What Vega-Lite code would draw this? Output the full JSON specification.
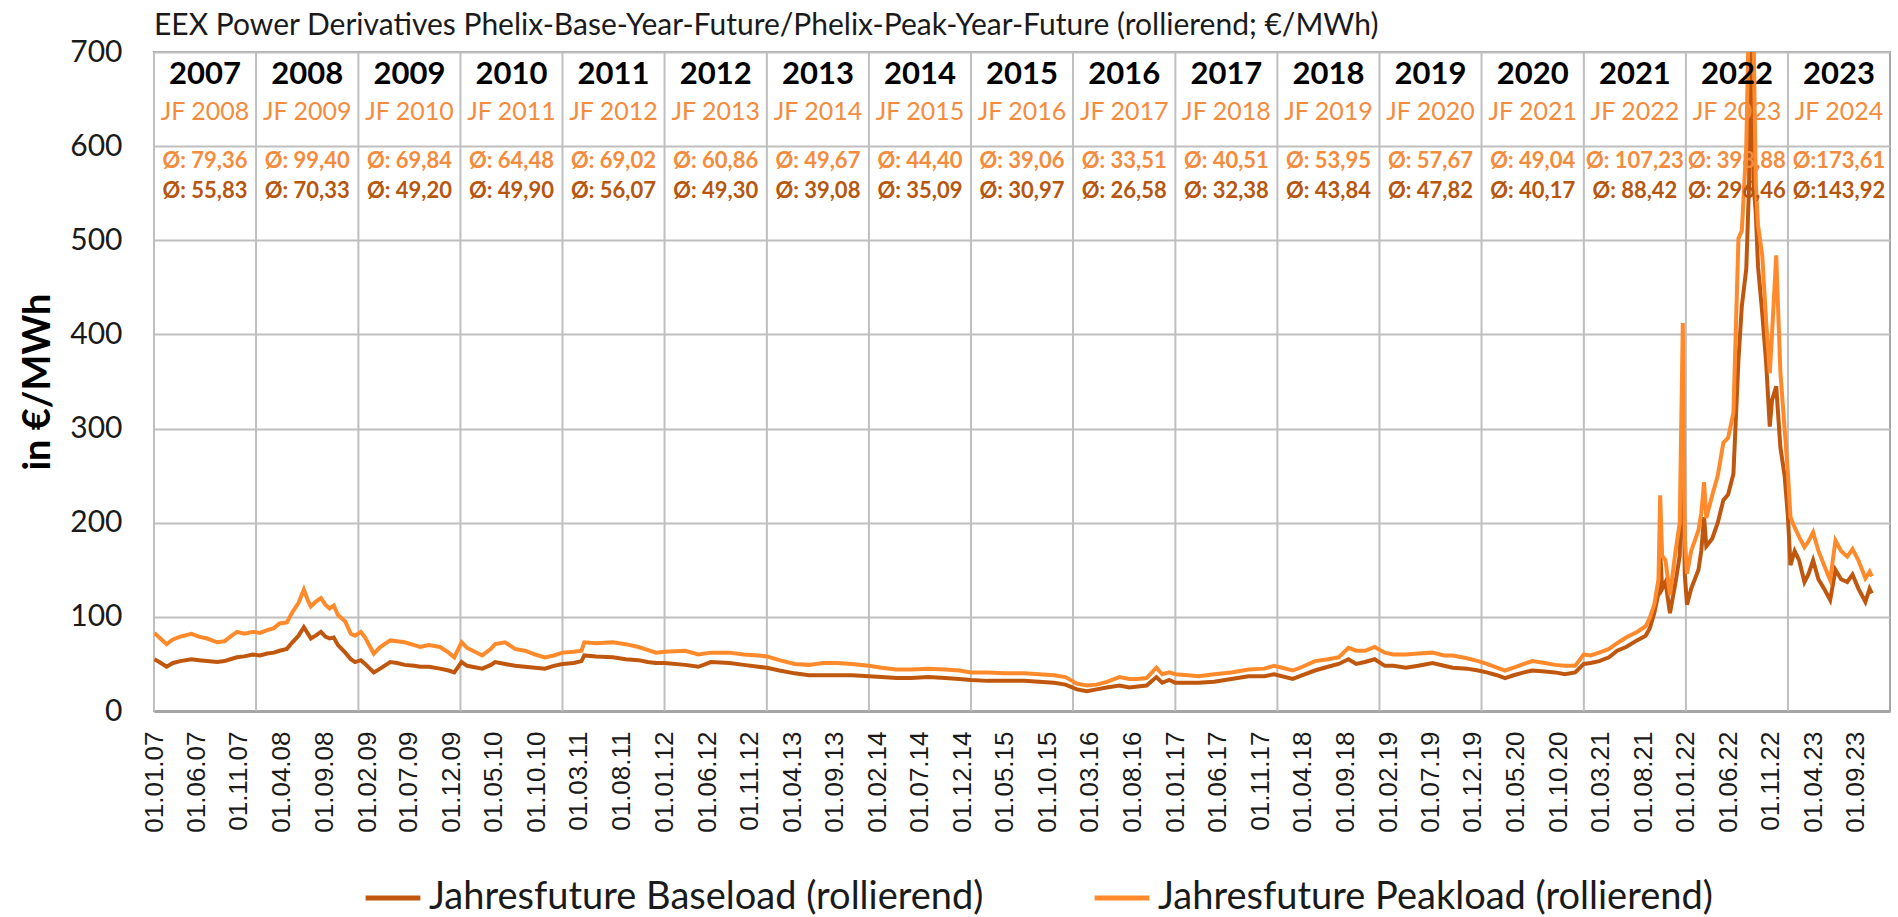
{
  "$schema": "https://vega.github.io/schema/vega-lite/v6.json",
  "width": 1736,
  "height": 659,
  "autosize": {"type": "none"},
  "padding": {"left": 154, "top": 52, "right": 8, "bottom": 206},
  "background": "white",
  "config": {"view": {"stroke": "#A6A6A6", "strokeWidth": 2}, "font": "Lato", "axisX": {"labelOverlap": false}},
  "title": {
    "text": "EEX Power Derivatives Phelix-Base-Year-Future/Phelix-Peak-Year-Future (rollierend; €/MWh)",
    "anchor": "start", "frame": "group", "fontSize": 30, "fontWeight": "normal", "font": "Lato", "color": "#1a1a1a", "offset": 12, "dy": 16
  },
  "resolve": {"axis": {"x": "independent", "y": "independent"}},
  "datasets": {
    "prices": [
      {"d": "2007-01-02", "base": 55, "peak": 83},
      {"d": "2007-01-20", "base": 52, "peak": 78},
      {"d": "2007-02-15", "base": 47, "peak": 71},
      {"d": "2007-03-10", "base": 51, "peak": 76},
      {"d": "2007-04-05", "base": 53, "peak": 79},
      {"d": "2007-05-15", "base": 55, "peak": 82},
      {"d": "2007-06-10", "base": 54, "peak": 79},
      {"d": "2007-07-10", "base": 53, "peak": 77},
      {"d": "2007-08-15", "base": 52, "peak": 73},
      {"d": "2007-09-10", "base": 53, "peak": 74},
      {"d": "2007-10-01", "base": 55, "peak": 79},
      {"d": "2007-10-25", "base": 57, "peak": 84},
      {"d": "2007-11-20", "base": 58, "peak": 82},
      {"d": "2007-12-20", "base": 60, "peak": 84},
      {"d": "2008-01-15", "base": 59, "peak": 83},
      {"d": "2008-02-10", "base": 61, "peak": 86},
      {"d": "2008-03-05", "base": 62, "peak": 88},
      {"d": "2008-03-25", "base": 64, "peak": 93},
      {"d": "2008-04-20", "base": 66, "peak": 94},
      {"d": "2008-05-10", "base": 73, "peak": 105},
      {"d": "2008-06-01", "base": 80, "peak": 115},
      {"d": "2008-06-20", "base": 89, "peak": 129},
      {"d": "2008-07-05", "base": 82, "peak": 117},
      {"d": "2008-07-15", "base": 77, "peak": 111},
      {"d": "2008-08-01", "base": 80, "peak": 116},
      {"d": "2008-08-20", "base": 84, "peak": 120},
      {"d": "2008-09-05", "base": 79, "peak": 113},
      {"d": "2008-09-20", "base": 77, "peak": 109},
      {"d": "2008-10-05", "base": 78, "peak": 112},
      {"d": "2008-10-20", "base": 70, "peak": 102},
      {"d": "2008-11-15", "base": 62, "peak": 95},
      {"d": "2008-12-05", "base": 55, "peak": 82},
      {"d": "2008-12-20", "base": 52, "peak": 80},
      {"d": "2009-01-10", "base": 54, "peak": 84},
      {"d": "2009-01-25", "base": 50, "peak": 78},
      {"d": "2009-02-25", "base": 41, "peak": 61},
      {"d": "2009-03-20", "base": 45, "peak": 68},
      {"d": "2009-04-25", "base": 52, "peak": 75},
      {"d": "2009-05-20", "base": 51, "peak": 74},
      {"d": "2009-06-15", "base": 49, "peak": 73},
      {"d": "2009-07-20", "base": 48, "peak": 70},
      {"d": "2009-08-10", "base": 47, "peak": 68},
      {"d": "2009-09-10", "base": 47, "peak": 70},
      {"d": "2009-10-20", "base": 45, "peak": 68},
      {"d": "2009-11-20", "base": 43, "peak": 62},
      {"d": "2009-12-10", "base": 41, "peak": 57},
      {"d": "2010-01-05", "base": 52, "peak": 73},
      {"d": "2010-01-25", "base": 48, "peak": 67},
      {"d": "2010-03-20", "base": 45, "peak": 59},
      {"d": "2010-04-20", "base": 49, "peak": 66},
      {"d": "2010-05-05", "base": 52, "peak": 71},
      {"d": "2010-06-10", "base": 50, "peak": 73},
      {"d": "2010-07-15", "base": 48, "peak": 66},
      {"d": "2010-08-20", "base": 47, "peak": 64},
      {"d": "2010-09-25", "base": 46, "peak": 60},
      {"d": "2010-10-30", "base": 45, "peak": 57},
      {"d": "2010-12-01", "base": 48, "peak": 59},
      {"d": "2011-01-01", "base": 50, "peak": 62},
      {"d": "2011-02-10", "base": 51, "peak": 63},
      {"d": "2011-03-10", "base": 53, "peak": 64},
      {"d": "2011-03-20", "base": 59, "peak": 73},
      {"d": "2011-05-01", "base": 58, "peak": 72},
      {"d": "2011-06-30", "base": 57, "peak": 73},
      {"d": "2011-08-15", "base": 55, "peak": 71},
      {"d": "2011-09-30", "base": 54, "peak": 68},
      {"d": "2011-11-01", "base": 52, "peak": 65},
      {"d": "2011-12-01", "base": 51, "peak": 62},
      {"d": "2012-01-01", "base": 51, "peak": 63},
      {"d": "2012-03-15", "base": 49, "peak": 64},
      {"d": "2012-05-01", "base": 47, "peak": 60},
      {"d": "2012-06-15", "base": 52, "peak": 62},
      {"d": "2012-08-20", "base": 51, "peak": 62},
      {"d": "2012-10-10", "base": 49, "peak": 60},
      {"d": "2012-12-01", "base": 47, "peak": 59},
      {"d": "2013-01-01", "base": 46, "peak": 58},
      {"d": "2013-02-15", "base": 43, "peak": 54},
      {"d": "2013-04-10", "base": 40, "peak": 50},
      {"d": "2013-06-01", "base": 38, "peak": 49},
      {"d": "2013-07-20", "base": 38, "peak": 51},
      {"d": "2013-09-10", "base": 38, "peak": 51},
      {"d": "2013-11-01", "base": 38, "peak": 50},
      {"d": "2014-01-01", "base": 37, "peak": 48},
      {"d": "2014-02-15", "base": 36, "peak": 46},
      {"d": "2014-04-10", "base": 35, "peak": 44},
      {"d": "2014-06-01", "base": 35, "peak": 44},
      {"d": "2014-08-01", "base": 36, "peak": 45},
      {"d": "2014-10-01", "base": 35, "peak": 44},
      {"d": "2014-11-20", "base": 34, "peak": 43},
      {"d": "2015-01-01", "base": 33, "peak": 41},
      {"d": "2015-03-01", "base": 32, "peak": 41},
      {"d": "2015-05-01", "base": 32, "peak": 40},
      {"d": "2015-07-10", "base": 32, "peak": 40},
      {"d": "2015-09-01", "base": 31, "peak": 39},
      {"d": "2015-10-25", "base": 30, "peak": 38},
      {"d": "2015-12-05", "base": 28, "peak": 36},
      {"d": "2016-01-15", "base": 23, "peak": 29},
      {"d": "2016-02-20", "base": 21, "peak": 27},
      {"d": "2016-03-25", "base": 23, "peak": 28},
      {"d": "2016-05-01", "base": 25, "peak": 31},
      {"d": "2016-06-15", "base": 27, "peak": 36},
      {"d": "2016-07-20", "base": 25, "peak": 34},
      {"d": "2016-08-20", "base": 26, "peak": 34},
      {"d": "2016-09-20", "base": 27, "peak": 35},
      {"d": "2016-10-25", "base": 36, "peak": 46},
      {"d": "2016-11-15", "base": 30, "peak": 39},
      {"d": "2016-12-10", "base": 33, "peak": 41},
      {"d": "2017-01-01", "base": 30, "peak": 39},
      {"d": "2017-02-15", "base": 30, "peak": 38},
      {"d": "2017-03-25", "base": 30, "peak": 37},
      {"d": "2017-05-20", "base": 31, "peak": 39},
      {"d": "2017-07-20", "base": 34, "peak": 41},
      {"d": "2017-09-20", "base": 37, "peak": 44},
      {"d": "2017-11-15", "base": 37, "peak": 45},
      {"d": "2017-12-20", "base": 39, "peak": 48},
      {"d": "2018-02-25", "base": 34, "peak": 43},
      {"d": "2018-04-01", "base": 38, "peak": 47},
      {"d": "2018-05-15", "base": 43, "peak": 53},
      {"d": "2018-07-01", "base": 47, "peak": 55},
      {"d": "2018-08-08", "base": 50, "peak": 57},
      {"d": "2018-09-12", "base": 55, "peak": 67},
      {"d": "2018-10-10", "base": 50, "peak": 64},
      {"d": "2018-11-10", "base": 52, "peak": 64},
      {"d": "2018-12-15", "base": 55, "peak": 68},
      {"d": "2019-01-20", "base": 48, "peak": 62},
      {"d": "2019-02-20", "base": 48, "peak": 60},
      {"d": "2019-04-05", "base": 46, "peak": 60},
      {"d": "2019-05-20", "base": 48, "peak": 61},
      {"d": "2019-07-10", "base": 51, "peak": 62},
      {"d": "2019-08-20", "base": 48, "peak": 59},
      {"d": "2019-09-20", "base": 46, "peak": 59},
      {"d": "2019-11-10", "base": 45, "peak": 56},
      {"d": "2019-12-20", "base": 43, "peak": 53},
      {"d": "2020-01-20", "base": 41, "peak": 50},
      {"d": "2020-02-25", "base": 38, "peak": 46},
      {"d": "2020-03-25", "base": 35, "peak": 43},
      {"d": "2020-04-25", "base": 38, "peak": 46},
      {"d": "2020-06-01", "base": 41, "peak": 50},
      {"d": "2020-07-01", "base": 43, "peak": 53},
      {"d": "2020-08-15", "base": 42, "peak": 51},
      {"d": "2020-09-20", "base": 41, "peak": 49},
      {"d": "2020-10-25", "base": 39, "peak": 48},
      {"d": "2020-12-01", "base": 41, "peak": 48},
      {"d": "2021-01-01", "base": 50, "peak": 60},
      {"d": "2021-01-25", "base": 51, "peak": 59},
      {"d": "2021-02-25", "base": 53, "peak": 62},
      {"d": "2021-04-01", "base": 57, "peak": 66},
      {"d": "2021-04-30", "base": 64, "peak": 72},
      {"d": "2021-06-01", "base": 68, "peak": 78},
      {"d": "2021-07-10", "base": 75, "peak": 84},
      {"d": "2021-08-10", "base": 80, "peak": 90},
      {"d": "2021-08-25", "base": 88, "peak": 99},
      {"d": "2021-09-10", "base": 104, "peak": 113},
      {"d": "2021-09-25", "base": 125, "peak": 140},
      {"d": "2021-10-01", "base": 169, "peak": 229},
      {"d": "2021-10-08", "base": 130, "peak": 165},
      {"d": "2021-10-20", "base": 137, "peak": 160},
      {"d": "2021-11-05", "base": 104, "peak": 123},
      {"d": "2021-11-25", "base": 137, "peak": 170},
      {"d": "2021-12-10", "base": 165, "peak": 200},
      {"d": "2021-12-21", "base": 300, "peak": 412},
      {"d": "2021-12-28", "base": 145, "peak": 185},
      {"d": "2022-01-05", "base": 113, "peak": 146},
      {"d": "2022-01-20", "base": 130, "peak": 170},
      {"d": "2022-02-15", "base": 150, "peak": 192},
      {"d": "2022-02-25", "base": 170, "peak": 210},
      {"d": "2022-03-07", "base": 206, "peak": 243},
      {"d": "2022-03-15", "base": 175, "peak": 205},
      {"d": "2022-04-05", "base": 183, "peak": 229},
      {"d": "2022-04-25", "base": 200, "peak": 250},
      {"d": "2022-05-15", "base": 224, "peak": 285},
      {"d": "2022-06-01", "base": 230, "peak": 290},
      {"d": "2022-06-20", "base": 252, "peak": 317},
      {"d": "2022-07-08", "base": 373, "peak": 502},
      {"d": "2022-07-20", "base": 430, "peak": 510},
      {"d": "2022-08-05", "base": 470, "peak": 600},
      {"d": "2022-08-15", "base": 560, "peak": 750},
      {"d": "2022-08-26", "base": 900, "peak": 1200},
      {"d": "2022-08-31", "base": 560, "peak": 720},
      {"d": "2022-09-08", "base": 529, "peak": 560},
      {"d": "2022-09-16", "base": 472, "peak": 516},
      {"d": "2022-10-01", "base": 423, "peak": 484},
      {"d": "2022-10-15", "base": 370, "peak": 414},
      {"d": "2022-10-28", "base": 302, "peak": 359},
      {"d": "2022-11-05", "base": 330, "peak": 400},
      {"d": "2022-11-20", "base": 345, "peak": 484},
      {"d": "2022-12-05", "base": 280, "peak": 360},
      {"d": "2022-12-20", "base": 250, "peak": 300},
      {"d": "2023-01-01", "base": 206, "peak": 252},
      {"d": "2023-01-10", "base": 155, "peak": 206},
      {"d": "2023-01-25", "base": 170, "peak": 195},
      {"d": "2023-02-10", "base": 160, "peak": 185},
      {"d": "2023-03-01", "base": 137, "peak": 174},
      {"d": "2023-03-15", "base": 145, "peak": 180},
      {"d": "2023-04-01", "base": 160, "peak": 190},
      {"d": "2023-04-20", "base": 140, "peak": 170},
      {"d": "2023-05-10", "base": 130, "peak": 155},
      {"d": "2023-06-01", "base": 118, "peak": 139},
      {"d": "2023-06-20", "base": 150, "peak": 181},
      {"d": "2023-07-10", "base": 140, "peak": 170},
      {"d": "2023-08-01", "base": 137, "peak": 164},
      {"d": "2023-08-20", "base": 145, "peak": 172},
      {"d": "2023-09-10", "base": 130, "peak": 160},
      {"d": "2023-10-05", "base": 116, "peak": 141},
      {"d": "2023-10-20", "base": 130, "peak": 148},
      {"d": "2023-10-28", "base": 125, "peak": 143}
    ],
    "years": [
      {"start": "2007-01-01", "yr": "2007", "jf": "JF 2008", "pavg": "Ø: 79,36", "bavg": "Ø: 55,83"},
      {"start": "2008-01-01", "yr": "2008", "jf": "JF 2009", "pavg": "Ø: 99,40", "bavg": "Ø: 70,33"},
      {"start": "2009-01-01", "yr": "2009", "jf": "JF 2010", "pavg": "Ø: 69,84", "bavg": "Ø: 49,20"},
      {"start": "2010-01-01", "yr": "2010", "jf": "JF 2011", "pavg": "Ø: 64,48", "bavg": "Ø: 49,90"},
      {"start": "2011-01-01", "yr": "2011", "jf": "JF 2012", "pavg": "Ø: 69,02", "bavg": "Ø: 56,07"},
      {"start": "2012-01-01", "yr": "2012", "jf": "JF 2013", "pavg": "Ø: 60,86", "bavg": "Ø: 49,30"},
      {"start": "2013-01-01", "yr": "2013", "jf": "JF 2014", "pavg": "Ø: 49,67", "bavg": "Ø: 39,08"},
      {"start": "2014-01-01", "yr": "2014", "jf": "JF 2015", "pavg": "Ø: 44,40", "bavg": "Ø: 35,09"},
      {"start": "2015-01-01", "yr": "2015", "jf": "JF 2016", "pavg": "Ø: 39,06", "bavg": "Ø: 30,97"},
      {"start": "2016-01-01", "yr": "2016", "jf": "JF 2017", "pavg": "Ø: 33,51", "bavg": "Ø: 26,58"},
      {"start": "2017-01-01", "yr": "2017", "jf": "JF 2018", "pavg": "Ø: 40,51", "bavg": "Ø: 32,38"},
      {"start": "2018-01-01", "yr": "2018", "jf": "JF 2019", "pavg": "Ø: 53,95", "bavg": "Ø: 43,84"},
      {"start": "2019-01-01", "yr": "2019", "jf": "JF 2020", "pavg": "Ø: 57,67", "bavg": "Ø: 47,82"},
      {"start": "2020-01-01", "yr": "2020", "jf": "JF 2021", "pavg": "Ø: 49,04", "bavg": "Ø: 40,17"},
      {"start": "2021-01-01", "yr": "2021", "jf": "JF 2022", "pavg": "Ø: 107,23", "bavg": "Ø: 88,42"},
      {"start": "2022-01-01", "yr": "2022", "jf": "JF 2023", "pavg": "Ø: 398,88", "bavg": "Ø: 296,46"},
      {"start": "2023-01-01", "yr": "2023", "jf": "JF 2024", "pavg": "Ø:173,61", "bavg": "Ø:143,92"}
    ]
  },
  "layer": [
    {
      "data": {"name": "years"},
      "mark": {"type": "rule", "color": "#BFBFBF", "strokeWidth": 2},
      "encoding": {
        "x": {"field": "start", "type": "temporal", "axis": null}
      }
    },
    {
      "data": {"name": "prices"},
      "transform": [{"fold": ["base", "peak"], "as": ["series", "value"]}],
      "mark": {"type": "line", "strokeWidth": 4, "clip": true},
      "encoding": {
        "x": {
          "field": "d", "type": "temporal",
          "scale": {"type": "utc", "domain": [{"year": 2007, "month": 1, "date": 1, "utc": true}, {"year": 2024, "month": 1, "date": 1, "utc": true}]},
          "axis": {
            "title": null, "format": "%d.%m.%y", "labelAngle": 270, "labelFont": "Liberation Sans", "labelFontSize": 26,
            "labelColor": "#1a1a1a", "grid": false, "ticks": false, "domain": true, "domainColor": "#A6A6A6", "domainWidth": 3,
            "labelPadding": 20, "labelOverlap": false, "labelFlush": false, "labelBound": false,
            "values": [
              {"year": 2007, "month": 1, "date": 1, "utc": true}, {"year": 2007, "month": 6, "date": 1, "utc": true}, {"year": 2007, "month": 11, "date": 1, "utc": true},
              {"year": 2008, "month": 4, "date": 1, "utc": true}, {"year": 2008, "month": 9, "date": 1, "utc": true},
              {"year": 2009, "month": 2, "date": 1, "utc": true}, {"year": 2009, "month": 7, "date": 1, "utc": true}, {"year": 2009, "month": 12, "date": 1, "utc": true},
              {"year": 2010, "month": 5, "date": 1, "utc": true}, {"year": 2010, "month": 10, "date": 1, "utc": true},
              {"year": 2011, "month": 3, "date": 1, "utc": true}, {"year": 2011, "month": 8, "date": 1, "utc": true},
              {"year": 2012, "month": 1, "date": 1, "utc": true}, {"year": 2012, "month": 6, "date": 1, "utc": true}, {"year": 2012, "month": 11, "date": 1, "utc": true},
              {"year": 2013, "month": 4, "date": 1, "utc": true}, {"year": 2013, "month": 9, "date": 1, "utc": true},
              {"year": 2014, "month": 2, "date": 1, "utc": true}, {"year": 2014, "month": 7, "date": 1, "utc": true}, {"year": 2014, "month": 12, "date": 1, "utc": true},
              {"year": 2015, "month": 5, "date": 1, "utc": true}, {"year": 2015, "month": 10, "date": 1, "utc": true},
              {"year": 2016, "month": 3, "date": 1, "utc": true}, {"year": 2016, "month": 8, "date": 1, "utc": true},
              {"year": 2017, "month": 1, "date": 1, "utc": true}, {"year": 2017, "month": 6, "date": 1, "utc": true}, {"year": 2017, "month": 11, "date": 1, "utc": true},
              {"year": 2018, "month": 4, "date": 1, "utc": true}, {"year": 2018, "month": 9, "date": 1, "utc": true},
              {"year": 2019, "month": 2, "date": 1, "utc": true}, {"year": 2019, "month": 7, "date": 1, "utc": true}, {"year": 2019, "month": 12, "date": 1, "utc": true},
              {"year": 2020, "month": 5, "date": 1, "utc": true}, {"year": 2020, "month": 10, "date": 1, "utc": true},
              {"year": 2021, "month": 3, "date": 1, "utc": true}, {"year": 2021, "month": 8, "date": 1, "utc": true},
              {"year": 2022, "month": 1, "date": 1, "utc": true}, {"year": 2022, "month": 6, "date": 1, "utc": true}, {"year": 2022, "month": 11, "date": 1, "utc": true},
              {"year": 2023, "month": 4, "date": 1, "utc": true}, {"year": 2023, "month": 9, "date": 1, "utc": true}
            ]
          }
        },
        "y": {
          "field": "value", "type": "quantitative",
          "scale": {"domain": [0, 700], "nice": false, "zero": true},
          "axis": {
            "values": [0, 100, 200, 300, 400, 500, 600, 700], "grid": true, "gridColor": "#BFBFBF", "gridWidth": 2,
            "domain": false, "ticks": false, "labelFont": "Lato", "labelFontSize": 30, "labelColor": "#1a1a1a", "labelPadding": 32,
            "title": "in €/MWh", "titleFont": "Lato", "titleFontSize": 38, "titleFontWeight": "bold", "titleColor": "#000000", "titlePadding": 12
          }
        },
        "color": {
          "field": "series", "type": "nominal",
          "scale": {"domain": ["base", "peak"], "range": ["#C0570F", "#FF8A2B"]},
          "legend": {
            "orient": "none", "legendX": 209, "legendY": 816, "direction": "horizontal", "title": null,
            "labelFont": "Lato", "labelFontSize": 38, "labelColor": "#1a1a1a", "labelLimit": 1000,
            "symbolType": "stroke", "symbolStrokeWidth": 5, "symbolSize": 3000, "columnPadding": 100, "labelOffset": 6,
            "labelExpr": "datum.label == 'base' ? 'Jahresfuture Baseload (rollierend)' : 'Jahresfuture Peakload (rollierend)'"
          }
        }
      }
    },
    {
      "data": {"name": "years"},
      "mark": {"type": "text", "font": "Lato", "fontSize": 31, "fontWeight": "bold", "color": "#000000", "align": "center", "baseline": "middle"},
      "encoding": {
        "x": {"field": "start", "type": "temporal", "timeUnit": "utcyear", "bandPosition": 0.5, "axis": null},
        "y": {"datum": 676, "type": "quantitative", "axis": null},
        "text": {"field": "yr"}
      }
    },
    {
      "data": {"name": "years"},
      "mark": {"type": "text", "font": "Lato", "fontSize": 25, "color": "#F58B3C", "align": "center", "baseline": "middle"},
      "encoding": {
        "x": {"field": "start", "type": "temporal", "timeUnit": "utcyear", "bandPosition": 0.5, "axis": null},
        "y": {"datum": 636, "type": "quantitative", "axis": null},
        "text": {"field": "jf"}
      }
    },
    {
      "data": {"name": "years"},
      "mark": {"type": "text", "font": "Lato", "fontSize": 22, "fontWeight": "bold", "color": "#F58B3C", "align": "center", "baseline": "middle"},
      "encoding": {
        "x": {"field": "start", "type": "temporal", "timeUnit": "utcyear", "bandPosition": 0.5, "axis": null},
        "y": {"datum": 584, "type": "quantitative", "axis": null},
        "text": {"field": "pavg"}
      }
    },
    {
      "data": {"name": "years"},
      "mark": {"type": "text", "font": "Lato", "fontSize": 22, "fontWeight": "bold", "color": "#B7560F", "align": "center", "baseline": "middle"},
      "encoding": {
        "x": {"field": "start", "type": "temporal", "timeUnit": "utcyear", "bandPosition": 0.5, "axis": null},
        "y": {"datum": 552, "type": "quantitative", "axis": null},
        "text": {"field": "bavg"}
      }
    }
  ]
}
